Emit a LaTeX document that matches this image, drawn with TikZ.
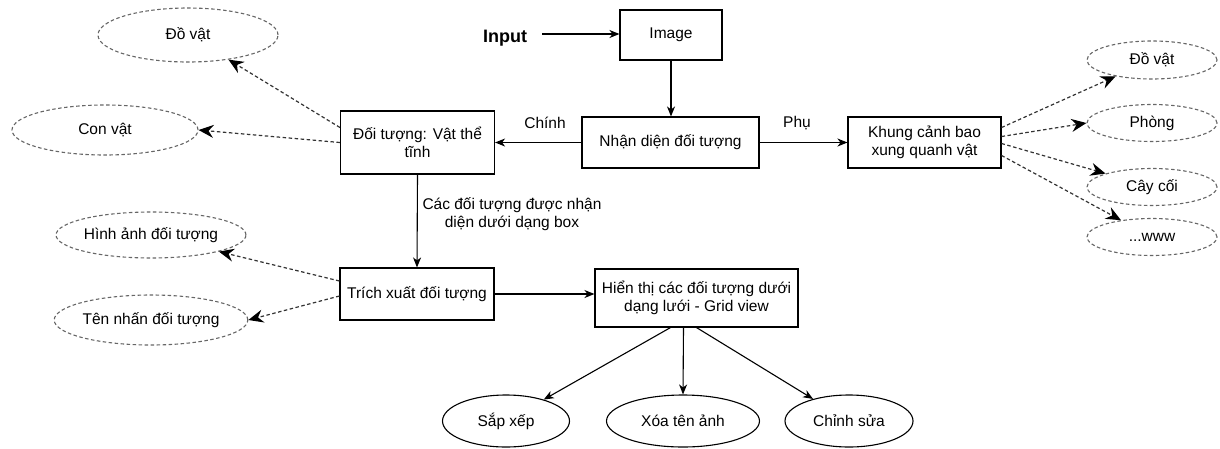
\documentclass[tikz,border=0pt]{standalone}
\usepackage{fontspec}
\setmainfont{Liberation Sans}
\usetikzlibrary{arrows.meta,shapes.geometric}
\begin{document}
\begin{tikzpicture}[x=1pt,y=-1pt,
  every node/.style={font=\fontsize{15.5}{18}\selectfont, align=center},
  box/.style={draw=black, line width=1.1pt, inner sep=0pt, fill=white},
  solidell/.style={draw=black, line width=1.1pt, ellipse, inner sep=0pt},
  dashell/.style={draw=black!60, line width=1.1pt, ellipse, inner sep=0pt, dash pattern=on 3.5pt off 2.5pt},
  link/.style={draw=black, line width=1.1pt, -{Stealth[length=10pt,width=8pt,inset=3pt]}},
  dlink/.style={draw=black!80, line width=1.2pt, dash pattern=on 3.5pt off 2.5pt,
    -{Stealth[length=15pt,width=13pt,inset=5pt,black]}},
  lbl/.style={inner sep=0pt}
]
\useasboundingbox (0,0) rectangle (1220,448);

% main flow boxes
\node[lbl, font=\fontsize{18}{20}\selectfont\bfseries] (inp) at (505,38) {Input};
\node[box, minimum width=102pt, minimum height=50pt] (img) at (671,35) {Image};
\node[box, minimum width=177pt, minimum height=51pt] (nd) at (670.5,142.5) {Nhận diện đối tượng};
\node[box, minimum width=154pt, minimum height=63pt] (dt) at (417.5,142.5) {Đối tượng: Vật thể\\tĩnh};
\node[box, minimum width=153pt, minimum height=51pt] (kc) at (924.5,142.5) {Khung cảnh bao\\xung quanh vật};
\node[box, minimum width=154pt, minimum height=52pt] (tx) at (417,294) {Trích xuất đối tượng};
\node[box, minimum width=203pt, minimum height=58pt] (hs) at (696.5,298) {Hiển thị các đối tượng dưới\\dạng lưới - Grid view};

% dashed category ellipses
\node[dashell, minimum width=180pt, minimum height=54pt] (ldo) at (188,35) {Đồ vật};
\node[dashell, minimum width=186pt, minimum height=50pt] (lcon) at (105,130) {Con vật};
\node[dashell, minimum width=130pt, minimum height=38pt] (rdo) at (1152,60) {Đồ vật};
\node[dashell, minimum width=130pt, minimum height=37pt] (rph) at (1152,123) {Phòng};
\node[dashell, minimum width=130pt, minimum height=37pt] (rcay) at (1152,187) {Cây cối};
\node[dashell, minimum width=130pt, minimum height=37pt] (rwww) at (1152,237) {...www};
\node[dashell, minimum width=178pt, minimum height=46pt] (hinh) at (151,235) {Hình ảnh đối tượng};
\node[dashell, minimum width=178pt, minimum height=50pt] (ten) at (151,320) {Tên nhấn đối tượng};

% action ellipses
\node[solidell, minimum width=127pt, minimum height=52pt] (sx) at (506,421) {Sắp xếp};
\node[solidell, minimum width=153pt, minimum height=52pt] (xoa) at (683,421) {Xóa tên ảnh};
\node[solidell, minimum width=128pt, minimum height=52pt] (cs) at (849,421) {Chỉnh sửa};

% edge labels
\node[lbl] (lchinh) at (545,123) {Chính};
\node[lbl] (lphu) at (797,123) {Phụ};
\node[lbl] (lbox) at (512,214) {Các đối tượng được nhận\\diện dưới dạng box};

% solid connectors
\coordinate (inpS) at ([xshift=15pt,yshift=4pt]inp.east);
\draw[link] (inpS) -- (img.west |- inpS);
\draw[link] (img.south) -- (img.south |- nd.north);
\draw[link] (nd.west) -- (dt.east);
\draw[link] (nd.east) -- (kc.west);
\draw[link] (dt.south) -- (tx.north);
\draw[link] (tx.east) -- (tx.east -| hs.west);
\draw[link] ([xshift=-26pt]hs.south) -- (sx);
\draw[link] ([xshift=-13pt]hs.south) -- (xoa.north);
\draw[link] (hs.south) -- (cs);

% dashed connectors to the category ellipses
\draw[dlink] ([yshift=15pt]dt.west) -- (ldo);
\draw[dlink] (dt.west) -- (lcon.east);
\draw[dlink] ([yshift=13pt]tx.west) -- (hinh);
\draw[dlink] ([yshift=-2pt]tx.west) -- (ten.east);
\draw[dlink] ([yshift=15pt]kc.east) -- (rdo);
\draw[dlink] ([yshift=6pt]kc.east) -- (rph.west);
\draw[dlink] ([yshift=-1pt]kc.east) -- (rcay);
\draw[dlink] ([yshift=-13pt]kc.east) -- (rwww);
\end{tikzpicture}
\end{document}
